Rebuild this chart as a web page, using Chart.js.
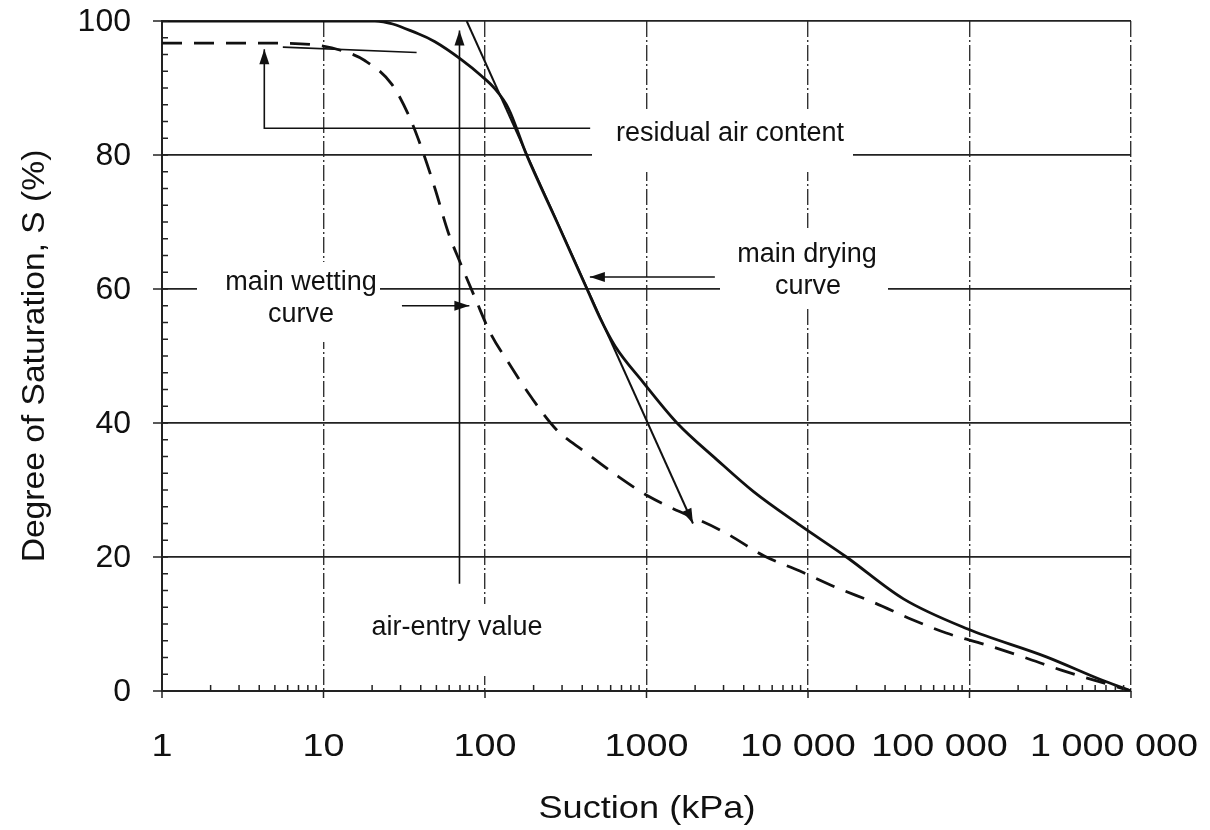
<!DOCTYPE html>
<html>
<head>
<meta charset="utf-8">
<script src="https://cdn.jsdelivr.net/npm/chart.js@4.4.0/dist/chart.umd.min.js"></script>
<style>
  body { margin: 0; background: #fff; }
  #wrap { width: 1210px; height: 830px; }
</style>
</head>
<body>
<div id="wrap"><canvas id="chart" width="1210" height="830"></canvas></div>
<script>
// axis ticks
const xTicks = [1, 10, 100, 1000, 10000, 100000, 1000000];
const xTickLabels = ['1', '10', '100', '1000', '10 000', '100 000', '1 000 000'];
const yTicks = [0, 20, 40, 60, 80, 100];
const yTickLabels = ['0', '20', '40', '60', '80', '100'];

// main drying curve (solid)
const dryingSuction = [1, 20.8, 38.6, 49, 71.7, 95.2, 115, 140, 181, 279, 428, 515, 638, 951, 1545, 2733, 4600, 8910, 17300, 39000, 97500, 299000, 641000, 1000000];
const dryingSat = [100, 100, 98.1, 96.9, 94.2, 91.8, 89.9, 86.9, 80, 70, 60, 55.7, 51.5, 46.1, 40, 34.5, 29.75, 24.75, 20, 13.75, 9.25, 5.1, 1.75, 0];

// main wetting curve (dashed)
const wettingSuction = [1, 4.4, 9.7, 12.9, 18, 26.6, 34.3, 41.5, 49, 59.3, 70.6, 86.7, 108, 139, 194, 277, 410, 652, 1023, 3060, 5360, 8910, 14800, 25900, 43200, 71800, 126000, 220000, 366000, 1000000];
const wettingSat = [96.7, 96.7, 96.3, 95.6, 94.1, 90.5, 85.5, 80.3, 75, 68.4, 63.8, 58.7, 53.4, 49.1, 43.8, 39, 35.8, 32.2, 29.1, 23.65, 20.15, 17.9, 15.5, 13.15, 10.75, 8.65, 6.9, 5, 3.15, 0];

// construction lines
const tangentSuction = [77, 1940];
const tangentSat = [100, 25];
const residualSuction = [448, 4.3, 4.3];
const residualSat = [84, 84, 95.8];
const plateauSuction = [5.6, 37.7];
const plateauSat = [96.1, 95.3];
const airEntrySuction = [69.5, 69.5];
const airEntrySat = [16, 98.6];
const wetArrowSuction = [30.6, 80];
const wetArrowSat = [57.5, 57.5];
const dryArrowSuction = [2650, 446];
const dryArrowSat = [61.8, 61.8];

const FONT = '"Liberation Sans", Arial, sans-serif';
const INK = '#111';

const pts = (xs, ys) => xs.map((x, i) => ({ x: x, y: ys[i] }));

function thin(xs, ys, arrow, w) {
  return {
    data: pts(xs, ys), showLine: true, pointRadius: 0,
    borderColor: INK, borderWidth: w || 1.6, tension: 0, arrow: arrow
  };
}

function drawText(ctx, text, x, y, size, align, sx, rot) {
  ctx.save();
  ctx.translate(x, y);
  if (rot) ctx.rotate(rot);
  ctx.scale(sx || 1, 1);
  ctx.font = size + 'px ' + FONT;
  ctx.fillStyle = INK;
  ctx.textAlign = align || 'center';
  ctx.textBaseline = 'middle';
  ctx.fillText(text, 0, 0);
  ctx.restore();
}

function line(ctx, x1, y1, x2, y2) {
  ctx.beginPath();
  ctx.moveTo(x1, y1);
  ctx.lineTo(x2, y2);
  ctx.stroke();
}

// the big labels sit left of their grid line so they fit in the frame
const xLabelShift = [0, 0, 0, 0, -10, -30, -17];

// white boxes behind the notes, they break the grid like in the print
const notes = {
  id: 'notes',
  beforeDatasetsDraw(chart) {
    const ctx = chart.ctx;
    ctx.save();
    ctx.fillStyle = '#fff';
    ctx.fillRect(592, 110, 261, 62);
    ctx.fillRect(197, 262, 183, 80);
    ctx.fillRect(720, 228, 168, 79);
    ctx.fillRect(365, 604, 185, 72);
    ctx.restore();
    drawText(ctx, 'residual air content', 730, 134, 27);
    drawText(ctx, 'main wetting', 301, 283, 27);
    drawText(ctx, 'curve', 301, 315, 27);
    drawText(ctx, 'main drying', 807, 255, 27);
    drawText(ctx, 'curve', 808, 287, 27);
    drawText(ctx, 'air-entry value', 457, 628, 27);
  },
  afterDatasetsDraw(chart) {
    const ctx = chart.ctx;
    chart.data.datasets.forEach((ds, i) => {
      if (!ds.arrow) return;
      const el = chart.getDatasetMeta(i).data;
      const a = el[el.length - 2], b = el[el.length - 1];
      const ang = Math.atan2(b.y - a.y, b.x - a.x);
      ctx.save();
      ctx.translate(b.x, b.y);
      ctx.rotate(ang);
      ctx.fillStyle = INK;
      ctx.beginPath();
      ctx.moveTo(0, 0);
      ctx.lineTo(-15, -5);
      ctx.lineTo(-15, 5);
      ctx.closePath();
      ctx.fill();
      ctx.restore();
    });
  },
  afterDraw(chart) {
    const ctx = chart.ctx;
    const xs = chart.scales.x, ys = chart.scales.y;
    const { left, bottom } = chart.chartArea;
    ctx.save();
    ctx.strokeStyle = '#222';
    ctx.lineWidth = 1.5;
    yTicks.forEach(v => {
      const py = ys.getPixelForValue(v);
      line(ctx, left - 9, py, left + 6, py);
    });
    for (let v = 2.5; v < 100; v += 2.5) {
      if (v % 20 === 0) continue;
      const py = ys.getPixelForValue(v);
      line(ctx, left, py, left + 6, py);
    }
    xTicks.forEach((d, i) => {
      const px = xs.getPixelForValue(d);
      line(ctx, px, bottom, px, bottom + 7);
      if (i === xTicks.length - 1) return;
      for (let k = 2; k < 10; k++) {
        const mx = xs.getPixelForValue(k * d);
        line(ctx, mx, bottom, mx, bottom - 6);
      }
    });
    ctx.restore();

    yTicks.forEach((v, i) => drawText(ctx, yTickLabels[i], 131, ys.getPixelForValue(v) + 1, 32, 'right'));
    xTicks.forEach((v, i) => {
      const px = xs.getPixelForValue(v) + xLabelShift[i];
      drawText(ctx, xTickLabels[i], px, 747, 32, 'center', 1.18);
    });
    drawText(ctx, 'Suction (kPa)', 647, 809, 32, 'center', 1.13);
    drawText(ctx, 'Degree of Saturation, S (%)', 35, 356, 32, 'center', 1.05, -Math.PI / 2);
  }
};

new Chart(document.getElementById('chart'), {
  type: 'scatter',
  data: {
    datasets: [
      {
        data: pts(dryingSuction, dryingSat), showLine: true, pointRadius: 0,
        borderColor: INK, borderWidth: 2.8, cubicInterpolationMode: 'monotone'
      },
      {
        data: pts(wettingSuction, wettingSat), showLine: true, pointRadius: 0,
        borderColor: INK, borderWidth: 2.8, borderDash: [20, 12], cubicInterpolationMode: 'monotone'
      },
      thin(tangentSuction, tangentSat, true, 2),
      thin(residualSuction, residualSat, true),
      thin(plateauSuction, plateauSat, false),
      thin(airEntrySuction, airEntrySat, true),
      thin(wetArrowSuction, wetArrowSat, true),
      thin(dryArrowSuction, dryArrowSat, true)
    ]
  },
  options: {
    responsive: false,
    animation: false,
    events: [],
    layout: { padding: { left: 162, right: 79, top: 21, bottom: 139 } },
    plugins: { legend: { display: false }, tooltip: { enabled: false } },
    scales: {
      x: {
        type: 'logarithmic', min: 1, max: 1000000,
        afterBuildTicks: s => { s.ticks = xTicks.map(v => ({ value: v })); },
        ticks: { display: false },
        grid: { color: '#333', lineWidth: 1.4, drawTicks: false },
        border: { display: true, color: '#222', width: 2, dash: [16, 3, 2, 3] }
      },
      y: {
        min: 0, max: 100,
        afterBuildTicks: s => { s.ticks = yTicks.map(v => ({ value: v })); },
        ticks: { display: false },
        grid: { color: '#222', lineWidth: 1.8, drawTicks: false },
        border: { display: true, color: '#222', width: 2 }
      }
    }
  },
  plugins: [notes]
});
</script>
</body>
</html>
